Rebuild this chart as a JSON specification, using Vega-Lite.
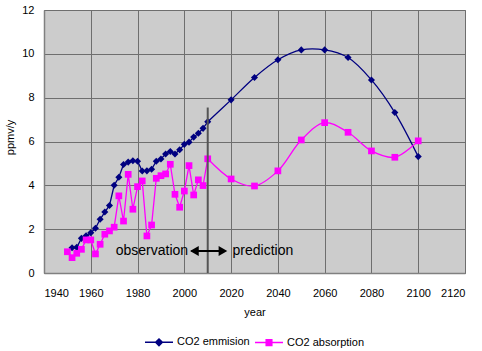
{
  "$schema": "https://vega.github.io/schema/vega-lite/v6.json",
  "width": 421,
  "height": 263,
  "autosize": {"type": "none"},
  "padding": {"left": 44, "top": 10, "right": 17, "bottom": 78},
  "background": "white",
  "config": {
    "font": "Liberation Sans",
    "view": {"fill": "#cccccc", "stroke": "#808080", "strokeWidth": 1},
    "axis": {
      "labelFont": "Liberation Sans",
      "labelFontSize": 11,
      "labelColor": "black",
      "titleFont": "Liberation Sans",
      "titleFontSize": 11,
      "titleFontWeight": "normal",
      "titleColor": "black",
      "ticks": false,
      "tickSize": 0,
      "gridColor": "#6e6e6e",
      "gridWidth": 1,
      "gridOpacity": 1,
      "domainColor": "#808080",
      "domainWidth": 1.5
    },
    "legend": {"labelFont": "Liberation Sans", "labelFontSize": 11, "labelColor": "black"}
  },
  "datasets": {
    "series": [
      {"year": 1952, "value": 1.15, "series": "CO2 emmision"},
      {"year": 1954, "value": 1.17, "series": "CO2 emmision"},
      {"year": 1956, "value": 1.58, "series": "CO2 emmision"},
      {"year": 1958, "value": 1.7, "series": "CO2 emmision"},
      {"year": 1960, "value": 1.84, "series": "CO2 emmision"},
      {"year": 1962, "value": 2.04, "series": "CO2 emmision"},
      {"year": 1964, "value": 2.45, "series": "CO2 emmision"},
      {"year": 1966, "value": 2.78, "series": "CO2 emmision"},
      {"year": 1968, "value": 3.08, "series": "CO2 emmision"},
      {"year": 1970, "value": 4.0, "series": "CO2 emmision"},
      {"year": 1972, "value": 4.37, "series": "CO2 emmision"},
      {"year": 1974, "value": 4.95, "series": "CO2 emmision"},
      {"year": 1976, "value": 5.06, "series": "CO2 emmision"},
      {"year": 1978, "value": 5.12, "series": "CO2 emmision"},
      {"year": 1980, "value": 5.1, "series": "CO2 emmision"},
      {"year": 1982, "value": 4.65, "series": "CO2 emmision"},
      {"year": 1984, "value": 4.66, "series": "CO2 emmision"},
      {"year": 1986, "value": 4.73, "series": "CO2 emmision"},
      {"year": 1988, "value": 5.1, "series": "CO2 emmision"},
      {"year": 1990, "value": 5.2, "series": "CO2 emmision"},
      {"year": 1992, "value": 5.43, "series": "CO2 emmision"},
      {"year": 1994, "value": 5.54, "series": "CO2 emmision"},
      {"year": 1996, "value": 5.43, "series": "CO2 emmision"},
      {"year": 1998, "value": 5.62, "series": "CO2 emmision"},
      {"year": 2000, "value": 5.87, "series": "CO2 emmision"},
      {"year": 2002, "value": 5.97, "series": "CO2 emmision"},
      {"year": 2004, "value": 6.2, "series": "CO2 emmision"},
      {"year": 2006, "value": 6.38, "series": "CO2 emmision"},
      {"year": 2008, "value": 6.6, "series": "CO2 emmision"},
      {"year": 2010, "value": 6.9, "series": "CO2 emmision"},
      {"year": 2020, "value": 7.9, "series": "CO2 emmision"},
      {"year": 2030, "value": 8.92, "series": "CO2 emmision"},
      {"year": 2040, "value": 9.73, "series": "CO2 emmision"},
      {"year": 2050, "value": 10.18, "series": "CO2 emmision"},
      {"year": 2060, "value": 10.18, "series": "CO2 emmision"},
      {"year": 2070, "value": 9.83, "series": "CO2 emmision"},
      {"year": 2080, "value": 8.81, "series": "CO2 emmision"},
      {"year": 2090, "value": 7.32, "series": "CO2 emmision"},
      {"year": 2100, "value": 5.31, "series": "CO2 emmision"},
      {"year": 1950, "value": 0.97, "series": "CO2 absorption"},
      {"year": 1952, "value": 0.7, "series": "CO2 absorption"},
      {"year": 1954, "value": 0.9, "series": "CO2 absorption"},
      {"year": 1956, "value": 1.08, "series": "CO2 absorption"},
      {"year": 1958, "value": 1.51, "series": "CO2 absorption"},
      {"year": 1960, "value": 1.51, "series": "CO2 absorption"},
      {"year": 1962, "value": 0.87, "series": "CO2 absorption"},
      {"year": 1964, "value": 1.31, "series": "CO2 absorption"},
      {"year": 1966, "value": 1.77, "series": "CO2 absorption"},
      {"year": 1968, "value": 1.92, "series": "CO2 absorption"},
      {"year": 1970, "value": 2.09, "series": "CO2 absorption"},
      {"year": 1972, "value": 3.52, "series": "CO2 absorption"},
      {"year": 1974, "value": 2.37, "series": "CO2 absorption"},
      {"year": 1976, "value": 4.5, "series": "CO2 absorption"},
      {"year": 1978, "value": 2.91, "series": "CO2 absorption"},
      {"year": 1980, "value": 3.94, "series": "CO2 absorption"},
      {"year": 1982, "value": 4.2, "series": "CO2 absorption"},
      {"year": 1984, "value": 1.69, "series": "CO2 absorption"},
      {"year": 1986, "value": 2.19, "series": "CO2 absorption"},
      {"year": 1988, "value": 4.32, "series": "CO2 absorption"},
      {"year": 1990, "value": 4.44, "series": "CO2 absorption"},
      {"year": 1992, "value": 4.52, "series": "CO2 absorption"},
      {"year": 1994, "value": 4.96, "series": "CO2 absorption"},
      {"year": 1996, "value": 3.59, "series": "CO2 absorption"},
      {"year": 1998, "value": 3.0, "series": "CO2 absorption"},
      {"year": 2000, "value": 3.74, "series": "CO2 absorption"},
      {"year": 2002, "value": 4.9, "series": "CO2 absorption"},
      {"year": 2004, "value": 3.56, "series": "CO2 absorption"},
      {"year": 2006, "value": 4.25, "series": "CO2 absorption"},
      {"year": 2008, "value": 3.99, "series": "CO2 absorption"},
      {"year": 2010, "value": 5.21, "series": "CO2 absorption"},
      {"year": 2020, "value": 4.29, "series": "CO2 absorption"},
      {"year": 2030, "value": 3.97, "series": "CO2 absorption"},
      {"year": 2040, "value": 4.66, "series": "CO2 absorption"},
      {"year": 2050, "value": 6.07, "series": "CO2 absorption"},
      {"year": 2060, "value": 6.86, "series": "CO2 absorption"},
      {"year": 2070, "value": 6.42, "series": "CO2 absorption"},
      {"year": 2080, "value": 5.57, "series": "CO2 absorption"},
      {"year": 2090, "value": 5.28, "series": "CO2 absorption"},
      {"year": 2100, "value": 6.03, "series": "CO2 absorption"}
    ]
  },
  "layer": [
    {
      "data": {"name": "series"},
      "transform": [{"filter": "datum.year <= 2010"}],
      "mark": {"type": "line", "strokeWidth": 1.3},
      "encoding": {
        "x": {"field": "year", "type": "quantitative", "scale": {"domain": [1940, 2120], "nice": false}, "axis": {"values": [1940, 1960, 1980, 2000, 2020, 2040, 2060, 2080, 2100, 2120], "format": "d", "title": "year", "labelPadding": 14, "titlePadding": 8, "domain": true}},
        "y": {"field": "value", "type": "quantitative", "scale": {"domain": [0, 12], "nice": false}, "axis": {"values": [0, 2, 4, 6, 8, 10, 12], "title": "ppmv/y", "labelPadding": 10, "titlePadding": 6, "titleY": 127}},
        "color": {
          "field": "series", "type": "nominal",
          "scale": {"domain": ["CO2 emmision", "CO2 absorption"], "range": ["#000080", "#FF00FF"]},
          "legend": {
            "orient": "none", "legendX": 100, "legendY": 317, "direction": "horizontal", "title": null,
            "symbolSize": 784, "labelOffset": 3, "columnPadding": 2,
            "encode": {"symbols": {"update": {
              "shape": {"signal": "datum.value === 'CO2 emmision' ? 'M-1,0L1,0M0,-0.24L0.24,0L0,0.24L-0.24,0Z' : 'M-1,0L1,0M-0.2,-0.2L0.2,-0.2L0.2,0.2L-0.2,0.2Z'"},
              "fill": {"signal": "datum.value === 'CO2 emmision' ? '#000080' : '#FF00FF'"},
              "stroke": {"signal": "datum.value === 'CO2 emmision' ? '#4848c0' : '#FF55FF'"},
              "strokeWidth": {"value": 1.5},
              "size": {"value": 784},
              "opacity": {"value": 1}
            }}}
          }
        },
        "detail": {"field": "series"}
      }
    },
    {
      "data": {"name": "series"},
      "transform": [{"filter": "datum.year >= 2010"}],
      "mark": {"type": "line", "strokeWidth": 1.3, "interpolate": "catmull-rom"},
      "encoding": {
        "x": {"field": "year", "type": "quantitative"},
        "y": {"field": "value", "type": "quantitative"},
        "color": {"field": "series", "type": "nominal"},
        "detail": {"field": "series"}
      }
    },
    {
      "data": {"name": "series"},
      "transform": [{"filter": "datum.series === 'CO2 emmision'"}],
      "mark": {"type": "point", "filled": true, "opacity": 1, "shape": "diamond", "size": 50},
      "encoding": {
        "x": {"field": "year", "type": "quantitative"},
        "y": {"field": "value", "type": "quantitative"},
        "color": {"field": "series", "type": "nominal"}
      }
    },
    {
      "data": {"name": "series"},
      "transform": [{"filter": "datum.series === 'CO2 absorption'"}],
      "mark": {"type": "point", "filled": true, "opacity": 1, "shape": "square", "size": 45},
      "encoding": {
        "x": {"field": "year", "type": "quantitative"},
        "y": {"field": "value", "type": "quantitative"},
        "color": {"field": "series", "type": "nominal"}
      }
    },
    {
      "data": {"values": [{"year": 2010, "bottom": 0, "top": 7.55}]},
      "mark": {"type": "rule", "color": "#555555", "strokeWidth": 2},
      "encoding": {
        "x": {"field": "year", "type": "quantitative"},
        "y": {"field": "bottom", "type": "quantitative"},
        "y2": {"field": "top"}
      }
    },
    {
      "data": {"values": [{"from": 2003, "to": 2017.5, "level": 1.0}]},
      "mark": {"type": "rule", "color": "black", "strokeWidth": 2},
      "encoding": {
        "x": {"field": "from", "type": "quantitative"},
        "x2": {"field": "to"},
        "y": {"field": "level", "type": "quantitative"}
      }
    },
    {
      "data": {"values": [{"year": 2004.3, "level": 1.0}]},
      "mark": {"type": "point", "filled": true, "color": "black", "opacity": 1, "size": 100, "shape": "triangle-left"},
      "encoding": {
        "x": {"field": "year", "type": "quantitative"},
        "y": {"field": "level", "type": "quantitative"}
      }
    },
    {
      "data": {"values": [{"year": 2016.5, "level": 1.0}]},
      "mark": {"type": "point", "filled": true, "color": "black", "opacity": 1, "size": 100, "shape": "triangle-right"},
      "encoding": {
        "x": {"field": "year", "type": "quantitative"},
        "y": {"field": "level", "type": "quantitative"}
      }
    },
    {
      "data": {"values": [{"year": 2001.6, "level": 1.0, "label": "observation"}]},
      "mark": {"type": "text", "fontSize": 14, "baseline": "middle", "align": "right", "color": "black", "font": "Liberation Sans"},
      "encoding": {
        "x": {"field": "year", "type": "quantitative"},
        "y": {"field": "level", "type": "quantitative"},
        "text": {"field": "label"}
      }
    },
    {
      "data": {"values": [{"year": 2020.6, "level": 1.0, "label": "prediction"}]},
      "mark": {"type": "text", "fontSize": 14, "baseline": "middle", "align": "left", "color": "black", "font": "Liberation Sans"},
      "encoding": {
        "x": {"field": "year", "type": "quantitative"},
        "y": {"field": "level", "type": "quantitative"},
        "text": {"field": "label"}
      }
    }
  ]
}
